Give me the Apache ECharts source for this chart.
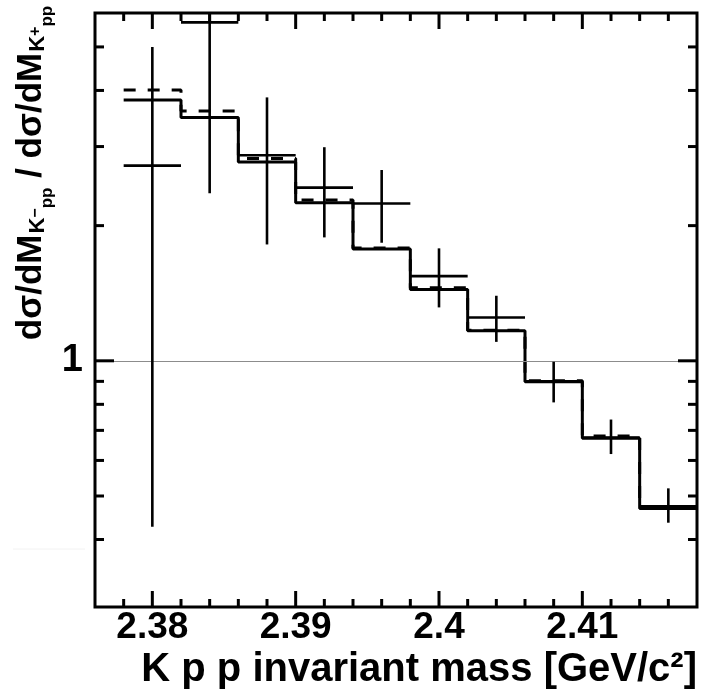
<!DOCTYPE html>
<html>
<head>
<meta charset="utf-8">
<script src="https://cdn.jsdelivr.net/npm/echarts@6/dist/echarts.min.js"></script>
<style>
  html, body { margin: 0; padding: 0; background: #fff; }
  #chart { width: 702px; height: 698px; }
</style>
</head>
<body>
<div id="chart"></div>
<script>
// bin centres [GeV/c^2], bins are 0.004 wide
var massCentres = [2.380, 2.384, 2.388, 2.392, 2.396, 2.400, 2.404, 2.408, 2.412, 2.416];
var binHalfWidth = 0.002;
// measured ratio with error bar ends
var measured = [2.72, 5.67, 2.87, 2.43, 2.24, 1.544, 1.249, 0.90, 0.675, 0.474];
var errLow = [0.427, 2.36, 1.816, 1.883, 1.832, 1.315, 1.102, 0.808, 0.620, 0.436];
var errHigh = [5.0, 9.0, 3.86, 2.99, 2.66, 1.78, 1.396, 0.995, 0.740, 0.520];
// model histograms
var modelSolid = [3.81, 3.48, 2.77, 2.248, 1.774, 1.442, 1.166, 0.898, 0.672, 0.469];
var modelDashed = [4.01, 3.60, 2.82, 2.28, 1.783, 1.454, 1.17, 0.903, 0.680, 0.474];
// axes
var X_MIN = 2.376, X_MAX = 2.418;
var Y_MIN = 0.283, Y_MAX = 5.95;
var xLabelValues = [2.38, 2.39, 2.40, 2.41];
var yLabelValues = [1];
var yMajorTicks = [1];
var yMinorTicks = [0.4, 0.5, 0.6, 0.7, 0.8, 0.9, 2, 3, 4, 5];

var FONT = '"Liberation Sans", Arial, sans-serif';

/* step points for a histogram */
function stepData(vals) {
  var out = [];
  for (var i = 0; i < vals.length; i++) {
    out.push([massCentres[i] - binHalfWidth, vals[i]]);
  }
  out.push([massCentres[vals.length - 1] + binHalfWidth, vals[vals.length - 1]]);
  return out;
}

var pointData = massCentres.map(function (c, i) {
  return [c, measured[i], errLow[i], errHigh[i]];
});

// tick marks: minor every 0.002, major every 0.01
var xTickData = [];
for (var i = 1; i < 21; i++) {
  var xv = +(X_MIN + i * 0.002).toFixed(3);
  var isMajor = xLabelValues.some(function (m) { return Math.abs(m - xv) < 1e-6; });
  xTickData.push([xv, Y_MIN, isMajor ? 1 : 0]);
}
var yTickData = yMajorTicks.map(function (v) { return [X_MIN, v, 1]; })
  .concat(yMinorTicks.map(function (v) { return [X_MIN, v, 0]; }));

function tickLine(x1, y1, x2, y2) {
  return { type: 'line', shape: { x1: x1, y1: y1, x2: x2, y2: y2 }, style: { stroke: '#000', lineWidth: 3 } };
}

var chart = echarts.init(document.getElementById('chart'));
chart.setOption({
  animation: false,
  backgroundColor: '#fff',
  grid: { left: 95, top: 13, right: 5, bottom: 91, show: true, borderColor: '#000', borderWidth: 3 },
  xAxis: {
    type: 'value', min: X_MIN, max: X_MAX, interval: 0.002,
    axisLine: { show: false }, axisTick: { show: false }, splitLine: { show: false },
    axisLabel: {
      margin: 2, color: '#000', fontFamily: FONT, fontWeight: 'bold', fontSize: 37,
      formatter: function (v) {
        for (var i = 0; i < xLabelValues.length; i++) {
          if (Math.abs(xLabelValues[i] - v) < 1e-6) return String(xLabelValues[i]);
        }
        return '';
      }
    }
  },
  yAxis: {
    type: 'log', logBase: 10, min: Y_MIN, max: Y_MAX,
    axisLine: { show: false }, axisTick: { show: false }, splitLine: { show: false },
    axisLabel: {
      margin: 12, color: '#000', fontFamily: FONT, fontWeight: 'bold', fontSize: 38,
      showMinLabel: false, showMaxLabel: false,
      formatter: function (v) {
        for (var i = 0; i < yLabelValues.length; i++) {
          if (Math.abs(yLabelValues[i] - v) < 1e-6) return String(yLabelValues[i]);
        }
        return '';
      }
    }
  },
  graphic: [
    {
      type: 'text', x: 31, y: 173, rotation: Math.PI / 2,
      style: {
        text: '{m|dσ/dM}{k|K}{s|−}{p|pp}{m| / dσ/dM}{k|K}{s|+}{p|pp}',
        align: 'center', verticalAlign: 'middle', fill: '#000',
        rich: {
          m: { fontFamily: FONT, fontWeight: 'bold', fontSize: 35, verticalAlign: 'middle' },
          k: { fontFamily: FONT, fontWeight: 'bold', fontSize: 22, verticalAlign: 'middle', padding: [14, 0, 0, 1] },
          s: { fontFamily: FONT, fontWeight: 'bold', fontSize: 16, verticalAlign: 'middle', padding: [10, 0, 0, 0] },
          p: { fontFamily: FONT, fontWeight: 'bold', fontSize: 17, verticalAlign: 'middle', padding: [33, 0, 0, 0] }
        }
      }
    },
    {
      type: 'text', x: 697, y: 670,
      style: {
        text: 'K p p invariant mass [GeV/c²]', align: 'right', verticalAlign: 'middle', fill: '#000',
        font: 'bold 40px ' + FONT
      }
    },
    {
      type: 'line', shape: { x1: 13, y1: 549, x2: 85, y2: 549 }, style: { stroke: '#f2f2f2', lineWidth: 1 }
    }
  ],
  series: [
    {
      type: 'line', step: 'end', showSymbol: false, silent: true,
      data: stepData(modelSolid),
      lineStyle: { color: '#000', width: 3 },
      markLine: {
        silent: true, symbol: 'none', label: { show: false },
        lineStyle: { color: '#8c8c8c', width: 1, type: 'solid' },
        data: [{ yAxis: 1 }]
      },
      z: 3
    },
    {
      type: 'line', step: 'end', showSymbol: false, silent: true,
      data: stepData(modelDashed),
      lineStyle: { color: '#000', width: 3, type: [12, 12] },
      z: 4
    },
    {
      // data points with error bars
      type: 'custom', silent: true, clip: true,
      encode: { x: 0, y: 1 },
      data: pointData,
      renderItem: function (params, api) {
        var x = api.value(0), y = api.value(1);
        var left = api.coord([x - binHalfWidth, y]);
        var right = api.coord([x + binHalfWidth, y]);
        var lo = api.coord([x, api.value(2)]);
        var hi = api.coord([x, api.value(3)]);
        var st = { stroke: '#000', lineWidth: 2.6 };
        return {
          type: 'group',
          children: [
            { type: 'line', shape: { x1: left[0], y1: left[1], x2: right[0], y2: right[1] }, style: st },
            { type: 'line', shape: { x1: lo[0], y1: lo[1], x2: hi[0], y2: hi[1] }, style: st }
          ]
        };
      },
      z: 5
    },
    {
      // x ticks on bottom and top
      type: 'custom', silent: true,
      encode: { x: 0, y: 1 },
      data: xTickData,
      renderItem: function (params, api) {
        var x = api.value(0);
        var len = api.value(2) ? 16 : 8;
        var b = api.coord([x, Y_MIN]);
        var t = api.coord([x, Y_MAX]);
        return {
          type: 'group',
          children: [tickLine(b[0], b[1], b[0], b[1] - len), tickLine(t[0], t[1], t[0], t[1] + len)]
        };
      },
      z: 6
    },
    {
      // y ticks on left and right
      type: 'custom', silent: true,
      encode: { x: 0, y: 1 },
      data: yTickData,
      renderItem: function (params, api) {
        var y = api.value(1);
        var len = api.value(2) ? 19 : 9;
        var l = api.coord([X_MIN, y]);
        var r = api.coord([X_MAX, y]);
        return {
          type: 'group',
          children: [tickLine(l[0], l[1], l[0] + len, l[1]), tickLine(r[0], r[1], r[0] - len, r[1])]
        };
      },
      z: 6
    }
  ]
});
</script>
</body>
</html>
